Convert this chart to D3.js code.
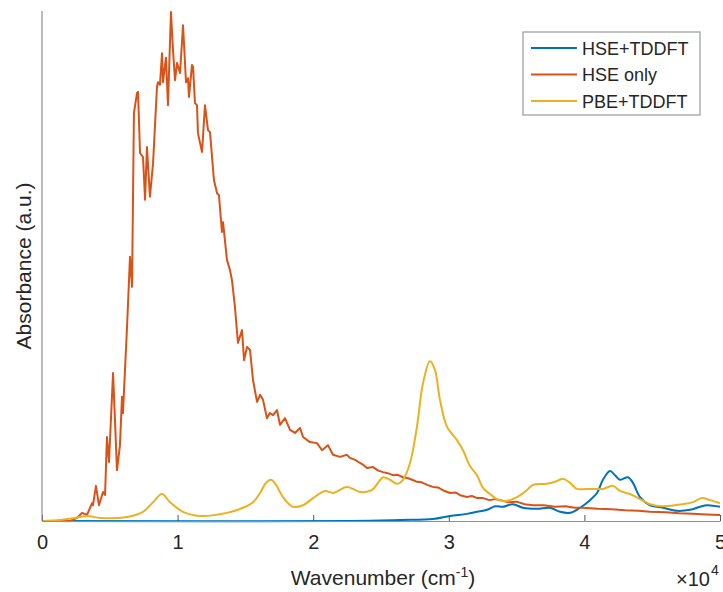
<!DOCTYPE html>
<html><head><meta charset="utf-8">
<script src="https://cdn.jsdelivr.net/npm/d3@7"></script>
<style>
body{margin:0;background:#fff}
svg{display:block}
text{font-family:"Liberation Sans",Arial,Helvetica,sans-serif;fill:#262626}
</style>
</head><body>
<svg id="c" width="723" height="592"></svg>
<script>
// x in units of 1e4 cm^-1, y in arbitrary units
const xTicks = [0, 1, 2, 3, 4, 5];
const xTickLabels = ["0", "1", "2", "3", "4", "5"];
const seriesNames = ["HSE+TDDFT", "HSE only", "PBE+TDDFT"];
const seriesColors = ["#0072BD", "#D95319", "#EDB120"];

const hseTddft = [
  [0,0],[2.271,0],[2.640,0.002],[2.883,0.004],[3.009,0.010],[3.134,0.014],[3.208,0.018],
  [3.282,0.022],[3.341,0.029],[3.400,0.028],[3.473,0.033],[3.547,0.026],[3.650,0.024],
  [3.746,0.026],[3.820,0.018],[3.894,0.016],[3.968,0.026],[4.041,0.041],[4.093,0.055],
  [4.137,0.081],[4.189,0.098],[4.226,0.090],[4.263,0.081],[4.322,0.086],[4.358,0.075],
  [4.410,0.047],[4.484,0.031],[4.580,0.026],[4.683,0.020],[4.779,0.022],[4.853,0.028],
  [4.904,0.031],[5.0,0.028]
];

const hseOnly = [
  [0,0],[0.206,0],[0.258,0.006],[0.295,0.016],[0.332,0.012],[0.369,0.035],[0.376,0.031],
  [0.398,0.069],[0.420,0.031],[0.450,0.057],[0.465,0.051],[0.479,0.165],[0.494,0.116],
  [0.524,0.291],[0.553,0.100],[0.575,0.149],[0.590,0.244],[0.597,0.212],[0.627,0.381],
  [0.649,0.519],[0.664,0.460],[0.671,0.631],[0.678,0.802],[0.701,0.841],[0.708,0.843],
  [0.723,0.723],[0.745,0.715],[0.760,0.631],[0.774,0.735],[0.796,0.637],[0.819,0.703],
  [0.848,0.853],[0.855,0.862],[0.870,0.857],[0.885,0.919],[0.892,0.862],[0.914,0.910],
  [0.929,0.817],[0.951,1.0],[0.966,0.925],[0.981,0.866],[0.996,0.900],[1.018,0.880],
  [1.040,0.974],[1.062,0.862],[1.077,0.870],[1.084,0.833],[1.106,0.896],[1.114,0.892],
  [1.128,0.821],[1.143,0.817],[1.150,0.762],[1.180,0.725],[1.202,0.817],[1.224,0.768],
  [1.239,0.764],[1.268,0.670],[1.291,0.644],[1.305,0.640],[1.327,0.568],[1.335,0.587],
  [1.364,0.513],[1.386,0.493],[1.401,0.473],[1.423,0.420],[1.445,0.350],[1.475,0.375],
  [1.490,0.316],[1.512,0.342],[1.534,0.336],[1.556,0.277],[1.586,0.234],[1.608,0.248],
  [1.630,0.238],[1.659,0.202],[1.681,0.212],[1.704,0.208],[1.733,0.218],[1.755,0.189],
  [1.792,0.202],[1.829,0.179],[1.866,0.173],[1.903,0.183],[1.925,0.165],[1.976,0.155],
  [2.028,0.153],[2.065,0.139],[2.109,0.149],[2.146,0.130],[2.198,0.126],[2.249,0.130],
  [2.271,0.124],[2.310,0.120],[2.345,0.114],[2.370,0.110],[2.397,0.104],[2.441,0.106],
  [2.480,0.099],[2.515,0.096],[2.550,0.094],[2.588,0.090],[2.620,0.091],[2.662,0.086],
  [2.700,0.084],[2.730,0.081],[2.765,0.077],[2.800,0.076],[2.840,0.071],[2.883,0.067],
  [2.920,0.066],[2.960,0.060],[3.009,0.055],[3.050,0.056],[3.090,0.050],[3.134,0.047],
  [3.170,0.049],[3.210,0.045],[3.252,0.045],[3.300,0.041],[3.340,0.043],[3.378,0.041],
  [3.440,0.037],[3.500,0.038],[3.560,0.033],[3.621,0.031],[3.700,0.031],[3.780,0.028],
  [3.860,0.029],[3.930,0.026],[3.990,0.026],[4.100,0.024],[4.200,0.023],[4.300,0.021],
  [4.400,0.020],[4.484,0.018],[4.600,0.017],[4.700,0.015],[4.800,0.014],[4.900,0.013],[5.0,0.012]
];

const pbeTddft = [
  [0,0],[0.133,0.002],[0.243,0.006],[0.332,0.010],[0.428,0.006],[0.627,0.008],[0.745,0.018],
  [0.819,0.037],[0.885,0.053],[0.944,0.037],[1.040,0.018],[1.165,0.010],[1.364,0.016],
  [1.482,0.026],[1.556,0.037],[1.608,0.055],[1.652,0.075],[1.689,0.081],[1.726,0.071],
  [1.777,0.047],[1.851,0.028],[1.925,0.031],[1.999,0.045],[2.087,0.059],[2.146,0.055],
  [2.249,0.067],[2.345,0.057],[2.434,0.061],[2.478,0.075],[2.515,0.086],[2.566,0.081],
  [2.618,0.073],[2.662,0.081],[2.714,0.114],[2.765,0.185],[2.810,0.271],[2.861,0.314],
  [2.898,0.297],[2.935,0.238],[2.987,0.185],[3.060,0.159],[3.105,0.139],[3.156,0.108],
  [3.208,0.090],[3.252,0.065],[3.304,0.053],[3.355,0.043],[3.414,0.039],[3.503,0.047],
  [3.577,0.061],[3.621,0.071],[3.724,0.073],[3.783,0.077],[3.842,0.083],[3.894,0.075],
  [3.945,0.063],[4.019,0.063],[4.093,0.063],[4.137,0.063],[4.211,0.069],[4.263,0.059],
  [4.336,0.053],[4.410,0.043],[4.484,0.033],[4.580,0.029],[4.727,0.033],[4.801,0.037],
  [4.867,0.045],[4.926,0.041],[5.0,0.035]
];

const svg = d3.select("#c");
const L = 42, R = 720, T = 11, B = 521;
const x = d3.scaleLinear().domain([0, 5]).range([L, R]);
const y = d3.scaleLinear().domain([0, 1]).range([B, 12]);

// lines
const mk = (curve) => d3.line().x(d => x(d[0])).y(d => y(d[1])).curve(curve);
const data = [hseTddft, hseOnly, pbeTddft];
const curves = [d3.curveCatmullRom, d3.curveLinear, d3.curveCatmullRom];
data.forEach((d, i) => {
  svg.append("path").attr("d", mk(curves[i])(d))
    .attr("fill", "none").attr("stroke", seriesColors[i])
    .attr("stroke-width", 2).attr("stroke-linejoin", "round");
});

// axes
const axisColor = "#8f8f8f";
const xAxis = d3.axisBottom(x).tickValues(xTicks).tickFormat((d, i) => xTickLabels[i]).tickSizeInner(-6).tickSizeOuter(0).tickPadding(14);
const gx = svg.append("g").attr("transform", `translate(0,${B})`).call(xAxis);
gx.select(".domain").attr("stroke", axisColor).attr("stroke-width", 1.2);
gx.selectAll(".tick line").attr("stroke", "#555").attr("stroke-width", 1);
gx.selectAll(".tick text").attr("font-size", 20).attr("fill", "#262626")
  .style("font-family", '"Liberation Sans", Arial, sans-serif');

const yAxis = d3.axisLeft(y).tickValues([]).tickSizeOuter(0);
const gy = svg.append("g").attr("transform", `translate(${L},0)`).call(yAxis);
gy.select(".domain").attr("stroke", axisColor).attr("stroke-width", 1.2).attr("d", `M0,${T}V${B}`);

// axis labels
const xl = svg.append("text").attr("x", (L + R) / 2 + 2).attr("y", 585).attr("text-anchor", "middle").attr("font-size", 21);
xl.append("tspan").text("Wavenumber (cm");
xl.append("tspan").attr("font-size", 14).attr("dy", -8).text("-1");
xl.append("tspan").attr("dy", 8).text(")");

svg.append("text").attr("transform", `translate(31,${(T + B) / 2}) rotate(-90)`)
  .attr("text-anchor", "middle").attr("font-size", 21).text("Absorbance (a.u.)");

svg.append("text").attr("x", 710).attr("y", 586).attr("text-anchor", "end").attr("font-size", 20).text("\u00d710");
svg.append("text").attr("x", 711).attr("y", 575).attr("font-size", 14).text("4");

// legend
const lg = svg.append("g");
lg.append("rect").attr("x", 523).attr("y", 32).attr("width", 177).attr("height", 83)
  .attr("fill", "#fff").attr("stroke", "#999").attr("stroke-width", 1.2);
seriesNames.forEach((n, i) => {
  const yy = 48 + i * 26.5;
  lg.append("line").attr("x1", 531).attr("x2", 577).attr("y1", yy).attr("y2", yy)
    .attr("stroke", seriesColors[i]).attr("stroke-width", 2);
  lg.append("text").attr("x", 582).attr("y", yy + 6.5).attr("font-size", 18).text(n);
});
</script>
</body></html>
